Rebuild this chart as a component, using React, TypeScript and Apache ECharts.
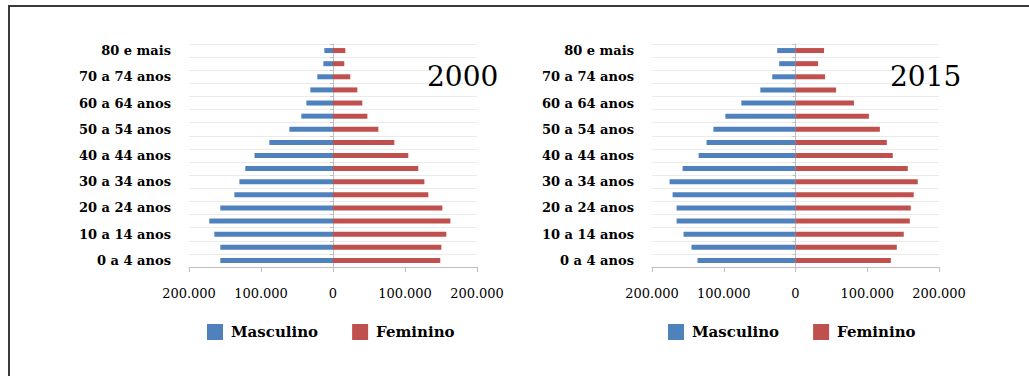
import React, { useEffect, useRef } from "react";
import * as echarts from "echarts";

const categories = [
  "0 a 4 anos", "5 a 9 anos", "10 a 14 anos", "15 a 19 anos", "20 a 24 anos",
  "25 a 29 anos", "30 a 34 anos", "35 a 39 anos", "40 a 44 anos", "45 a 49 anos",
  "50 a 54 anos", "55 a 59 anos", "60 a 64 anos", "65 a 69 anos", "70 a 74 anos",
  "75 a 79 anos", "80 e mais",
];
const male2000 = [156500, 156500, 164800, 171800, 156500, 137000, 130000, 121800, 109000, 88400, 60600, 44000, 37000, 31500, 21800, 13400, 12000];
const female2000 = [149000, 150500, 157400, 163000, 151900, 132400, 126900, 118500, 104600, 85200, 63000, 47700, 40700, 33800, 24000, 15700, 17100];
const male2015 = [136600, 145000, 156000, 165700, 165700, 171300, 175500, 157400, 135000, 124000, 114400, 97700, 75500, 49000, 32400, 22700, 25500];
const female2015 = [132900, 141200, 150900, 159300, 160600, 164800, 170400, 156500, 135600, 127300, 117600, 102300, 81500, 56500, 41200, 31500, 39800];
const years = ["2000", "2015"];
const seriesNames = ["Masculino", "Feminino"];

const SERIF = "DejaVu Serif";
const BLUE = "#4f81bd";
const RED = "#c0504d";

function fmt(v: number) {
  const a = Math.abs(v);
  return String(a).replace(/\B(?=(\d{3})+(?!\d))/g, ".");
}

export default function App() {
  const ref = useRef<HTMLDivElement>(null);
  useEffect(() => {
    if (!ref.current) return;
    const chart = echarts.init(ref.current, null, { renderer: "svg" });
    const grids = [
      { left: 189, top: 44, width: 288, height: 223 },
      { left: 652, top: 44, width: 287, height: 223 },
    ];
    const males = [male2000, male2015];
    const females = [female2000, female2015];
    const xAxis: any[] = [];
    const yAxis: any[] = [];
    const series: any[] = [];
    const legend: any[] = [];
    const title: any[] = [];
    grids.forEach((g, i) => {
      xAxis.push({
        gridIndex: i,
        type: "value",
        min: -200000,
        max: 200000,
        interval: 100000,
        axisLine: { show: true, lineStyle: { color: "#bfbfbf", width: 1 } },
        axisTick: { show: true, length: 5, lineStyle: { color: "#bfbfbf" } },
        splitLine: { show: false },
        axisLabel: {
          formatter: (v: number) => fmt(v),
          fontFamily: SERIF,
          fontSize: 13,
          color: "#000",
          margin: 20,
        },
      });
      yAxis.push({
        gridIndex: i,
        type: "category",
        data: categories,
        axisLine: { show: false },
        axisTick: { show: false },
        axisLabel: {
          interval: 1,
          fontFamily: SERIF,
          fontWeight: "bold",
          fontSize: 13,
          color: "#000",
          margin: 18,
        },
        splitLine: { show: true, interval: 0, lineStyle: { color: "#ebebeb", width: 1 } },
      });
      yAxis.push({
        gridIndex: i,
        type: "category",
        data: categories,
        position: "left",
        offset: -g.width / 2,
        axisLine: { show: true, lineStyle: { color: "#bfbfbf", width: 1 } },
        axisTick: { show: true, length: 3, interval: 0, lineStyle: { color: "#bfbfbf" } },
        axisLabel: { show: false },
        splitLine: { show: false },
      });
      series.push({
        name: seriesNames[0],
        type: "bar",
        xAxisIndex: i,
        yAxisIndex: i * 2,
        stack: "s" + i,
        barWidth: 5,
        itemStyle: { color: BLUE },
        data: males[i].map((v) => -v),
      });
      series.push({
        name: seriesNames[1],
        type: "bar",
        xAxisIndex: i,
        yAxisIndex: i * 2,
        stack: "s" + i,
        barWidth: 5,
        itemStyle: { color: RED },
        data: females[i],
      });
      legend.push({
        data: seriesNames,
        left: i === 0 ? 207 : 668,
        top: 324,
        padding: 0,
        icon: "rect",
        itemWidth: 16,
        itemHeight: 16,
        itemGap: 34,
        textStyle: {
          fontFamily: SERIF,
          fontWeight: "bold",
          fontSize: 15,
          color: "#000",
          padding: [0, 0, 0, 3],
        },
      });
      title.push({
        text: years[i],
        left: i === 0 ? 427 : 890,
        top: 62,
        padding: 0,
        textStyle: { fontFamily: SERIF, fontWeight: "normal", fontSize: 28, color: "#000" },
      });
    });

    chart.setOption({
      animation: false,
      backgroundColor: "#fff",
      title,
      legend,
      grid: grids,
      xAxis,
      yAxis,
      series,
      graphic: [
        {
          type: "rect",
          shape: { x: 9, y: 6, width: 1100, height: 500 },
          style: { fill: "none", stroke: "#3a3a3a", lineWidth: 2 },
          silent: true,
        },
      ],
    });
    return () => chart.dispose();
  }, []);
  return (
    <div
      ref={ref}
      style={{ position: "fixed", left: 0, top: 0, width: 1029, height: 376 }}
    />
  );
}
